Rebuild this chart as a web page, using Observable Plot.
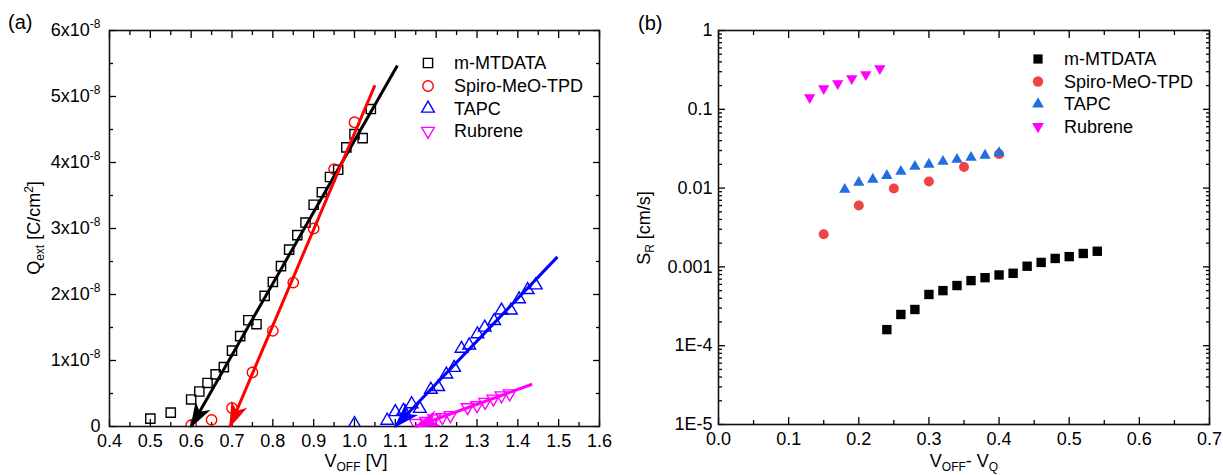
<!DOCTYPE html>
<html><head><meta charset="utf-8">
<script src="https://cdn.jsdelivr.net/npm/d3@7"></script>
<script src="https://cdn.jsdelivr.net/npm/@observablehq/plot@0.6"></script>
<style>
body{margin:0;background:#fff;}
#wrap{position:relative;width:1223px;height:475px;overflow:hidden;}
#pa,#pb{position:absolute;top:0;}
#pa{left:0px}
#pb{left:612px}
</style></head><body>
<div id="wrap"><div id="pa"></div><div id="pb"></div></div>
<script>
// ---------------- Panel (a) data ----------------
const mtdataV = [0.50,0.55,0.60,0.62,0.64,0.66,0.68,0.70,0.72,0.74,0.76,0.78,0.80,0.82,0.84,0.86,0.88,0.90,0.92,0.94,0.96,0.98,1.00,1.02,1.04];
const mtdataQ = [0.12,0.21,0.41,0.53,0.66,0.79,0.90,1.15,1.37,1.61,1.55,1.98,2.19,2.43,2.68,2.90,3.09,3.36,3.55,3.78,3.89,4.23,4.43,4.37,4.81]; // x1e-8 C/cm2
const spiroV = [0.60,0.65,0.70,0.75,0.80,0.85,0.90,0.95,1.00];
const spiroQ = [0.02,0.10,0.28,0.82,1.45,2.18,3.00,3.90,4.61];
const tapcV = [1.00,1.08,1.10,1.12,1.14,1.16,1.187,1.205,1.225,1.244,1.262,1.281,1.301,1.319,1.342,1.360,1.383,1.403,1.424,1.444];
const tapcQ = [0.04,0.09,0.22,0.24,0.34,0.27,0.56,0.60,0.79,0.89,1.18,1.23,1.40,1.50,1.60,1.76,1.76,1.93,2.07,2.14];
const rubV = [1.15,1.175,1.195,1.215,1.235,1.277,1.30,1.32,1.34,1.36,1.38];
const rubQ = [0.05,0.08,0.12,0.14,0.17,0.29,0.32,0.37,0.42,0.47,0.50];
// linear fits with arrows: from upper end (1) to arrow tip on axis (2)
const fitNames = ["m-MTDATA","Spiro-MeO-TPD","TAPC","Rubrene"];
const fitV1 = [1.105,1.05,1.497,1.435];
const fitQ1 = [5.47,5.17,2.57,0.64];
const fitV2 = [0.60,0.695,1.10,1.15];
const fitQ2 = [0,0,0,0];
const aXTicks = [0.4,0.5,0.6,0.7,0.8,0.9,1.0,1.1,1.2,1.3,1.4,1.5,1.6];
const aXMinor = [0.45,0.55,0.65,0.75,0.85,0.95,1.05,1.15,1.25,1.35,1.45,1.55];
const aYTicks = [0,1e-8,2e-8,3e-8,4e-8,5e-8,6e-8];
const aYMinor = [0.5e-8,1.5e-8,2.5e-8,3.5e-8,4.5e-8,5.5e-8];

// ---------------- Panel (b) data ----------------
const bMtdataX = [0.24,0.26,0.28,0.30,0.32,0.34,0.36,0.38,0.40,0.42,0.44,0.46,0.48,0.50,0.52,0.54];
const bMtdataS = [1.6e-4,2.49e-4,2.88e-4,4.47e-4,5.0e-4,5.8e-4,6.7e-4,7.3e-4,7.9e-4,8.3e-4,1.02e-3,1.14e-3,1.28e-3,1.35e-3,1.48e-3,1.58e-3];
const bSpiroX = [0.15,0.20,0.25,0.30,0.35,0.40];
const bSpiroS = [0.0026,0.0060,0.0099,0.0121,0.0185,0.027];
const bTapcX = [0.18,0.20,0.22,0.24,0.26,0.28,0.30,0.32,0.34,0.36,0.38,0.40];
const bTapcS = [0.0096,0.0118,0.0129,0.0144,0.0162,0.0188,0.020,0.0218,0.023,0.0245,0.026,0.028];
const bRubX = [0.13,0.15,0.17,0.19,0.21,0.23];
const bRubS = [0.141,0.184,0.212,0.246,0.277,0.33];
const bXTicks = [0,0.1,0.2,0.3,0.4,0.5,0.6,0.7];
const bXMinor = [0.05,0.15,0.25,0.35,0.45,0.55,0.65];
const bYTicks = [1e-5,1e-4,1e-3,1e-2,1e-1,1];
const bYLabels = ["1E-5","1E-4","0.001","0.01","0.1","1"];
const bYMinor = [];
for (const dec of [1e-5,1e-4,1e-3,1e-2,1e-1]) for (const m of [2,3,4,5,6,7,8,9]) bYMinor.push(dec*m);

// ---------------- helpers ----------------
const FONT = "'Liberation Sans', Arial, Helvetica, sans-serif";
const downTri = {draw(ctx, size){
  const y = -Math.sqrt(size / (3 * Math.sqrt(3)));
  ctx.moveTo(0, -y * 2);
  ctx.lineTo(-Math.sqrt(3) * y, y);
  ctx.lineTo(Math.sqrt(3) * y, y);
  ctx.closePath();
}};
const blank = () => "";
function frameAxes(xMaj, xMin, yMaj, yMin, xFmt, yFmt, yPad) {
  const sw = 1.3;
  return [
    Plot.axisX(xMaj, {anchor:"bottom", tickSize:-7, tickPadding:15, tickFormat:xFmt, label:null, strokeWidth:sw, fontSize:18}),
    Plot.axisX(xMin, {anchor:"bottom", tickSize:-4, tickFormat:blank, label:null, strokeWidth:sw}),
    Plot.axisX(xMaj, {anchor:"top", tickSize:-7, tickFormat:blank, label:null, strokeWidth:sw}),
    Plot.axisX(xMin, {anchor:"top", tickSize:-4, tickFormat:blank, label:null, strokeWidth:sw}),
    Plot.axisY(yMaj, {anchor:"left", tickSize:-7, tickPadding:yPad, tickFormat:yFmt, label:null, strokeWidth:sw, fontSize:18}),
    Plot.axisY(yMin, {anchor:"left", tickSize:-4, tickFormat:blank, label:null, strokeWidth:sw}),
    Plot.axisY(yMaj, {anchor:"right", tickSize:-7, tickFormat:blank, label:null, strokeWidth:sw}),
    Plot.axisY(yMin, {anchor:"right", tickSize:-4, tickFormat:blank, label:null, strokeWidth:sw}),
    Plot.frame({stroke:"#111", strokeWidth:1.6})
  ];
}
function richText(sel, parts) {
  // parts: [text, shift] shift: 0 normal, 1 sub, -1 sup
  let cur = 0;
  for (const [t, s] of parts) {
    const target = s === 1 ? 4 : s === -1 ? -7 : 0;
    const ts = sel.append("tspan").attr("dy", target - cur).text(t);
    if (s !== 0) ts.attr("font-size", 12);
    cur = target;
  }
  return sel;
}
function legend(svg, items, sx, tx, ys, filled) {
  const g = d3.select(svg).append("g").attr("font-family", FONT).attr("font-size", 18).attr("text-anchor", "start");
  items.forEach((it, i) => {
    const p = g.append("path").attr("transform", `translate(${sx},${ys[i]})`)
      .attr("d", d3.symbol(it.sym, it.size)());
    if (filled) p.attr("fill", it.color);
    else p.attr("fill", "none").attr("stroke", it.color).attr("stroke-width", 1.4);
    g.append("text").attr("x", tx).attr("y", ys[i]).attr("dy", "0.35em").attr("text-anchor", "start").attr("fill", "black").text(it.name);
  });
}

// ---------------- Panel (a) ----------------
const rows = (vs, qs) => vs.map((v, i) => ({v, q: qs[i] * 1e-8}));
const fits = fitNames.map((n, i) => ({n, x1: fitV1[i], y1: fitQ1[i]*1e-8, x2: fitV2[i], y2: fitQ2[i]*1e-8}));
const fitColors = ["#000000", "#ff0000", "#0000ff", "#ff00ff"];
const chartA = Plot.plot({
  width: 612, height: 475,
  marginLeft: 109, marginRight: 13, marginTop: 30, marginBottom: 49,
  style: {fontFamily: FONT, fontSize: "18px", color: "black", background: "white", overflow: "visible"},
  x: {domain: [0.4, 1.6]},
  y: {domain: [0, 6e-8]},
  marks: [
    ...frameAxes(aXTicks, aXMinor, aYTicks, aYMinor, d => d.toFixed(1), d => d === 0 ? "0" : `${Math.round(d / 1e-8)}x10`, 16),
    Plot.dot(rows(mtdataV, mtdataQ), {x: "v", y: "q", symbol: "square", r: 5.2, stroke: "black", strokeWidth: 1.4, fill: "none", clip: true}),
    Plot.dot(rows(spiroV, spiroQ), {x: "v", y: "q", symbol: "circle", r: 5.2, stroke: "#ff0000", strokeWidth: 1.4, fill: "none", clip: true}),
    Plot.dot(rows(tapcV, tapcQ), {x: "v", y: "q", symbol: "triangle", r: 4.7, stroke: "#0000ff", strokeWidth: 1.4, fill: "none", clip: true}),
    Plot.dot(rows(rubV, rubQ), {x: "v", y: "q", symbol: downTri, r: 4.7, stroke: "#ff00ff", strokeWidth: 1.4, fill: "none", clip: true}),
    ...fits.map((f, i) => Plot.link([f], {x1: "x1", y1: "y1", x2: "x2", y2: "y2", stroke: fitColors[i], strokeWidth: 3}))
  ]
});
document.getElementById("pa").appendChild(chartA);
{
  const s = d3.select(chartA);
  // superscripts on y tick labels
  s.selectAll('g[aria-label="y-axis tick label"] text').each(function() {
    if (this.textContent.endsWith("x10")) d3.select(this).append("tspan").attr("dy", -8).attr("font-size", 12).text("-8");
  });
  // filled arrow heads
  const defs = s.append("defs");
  fitColors.forEach((c, i) => {
    const m = defs.append("marker").attr("id", `ahA${i}`).attr("viewBox", "-28 -11 31 22")
      .attr("refX", 0).attr("refY", 0).attr("markerWidth", 31).attr("markerHeight", 22)
      .attr("markerUnits", "userSpaceOnUse").attr("orient", "auto");
    m.append("path").attr("d", "M2,0L-24,-8.5L-17,0L-24,8.5Z").attr("fill", c);
  });
  s.selectAll('g[aria-label="link"]').each(function(d, i) {
    d3.select(this).selectAll("path").attr("marker-end", `url(#ahA${i})`);
  });
  // labels
  s.append("text").attr("x", 8).attr("y", 29).attr("text-anchor", "start").attr("font-size", 20).attr("font-family", FONT).attr("fill", "black").text("(a)");
  richText(s.append("text").attr("transform", "translate(40,228) rotate(-90)").attr("text-anchor", "middle")
    .attr("font-size", 18).attr("font-family", FONT).attr("fill", "black"),
    [["Q", 0], ["ext", 1], [" [C/cm", 0], ["2", -1], ["]", 0]]);
  richText(s.append("text").attr("x", 356).attr("y", 467).attr("text-anchor", "middle")
    .attr("font-size", 18).attr("font-family", FONT).attr("fill", "black"),
    [["V", 0], ["OFF", 1], [" [V]", 0]]);
  legend(chartA, [
    {name: "m-MTDATA", sym: d3.symbolSquare, size: 85, color: "black"},
    {name: "Spiro-MeO-TPD", sym: d3.symbolCircle, size: 85, color: "#ff0000"},
    {name: "TAPC", sym: d3.symbolTriangle, size: 70, color: "#0000ff"},
    {name: "Rubrene", sym: downTri, size: 70, color: "#ff00ff"}
  ], 428, 454, [63, 86, 108.5, 131], false);
}

// ---------------- Panel (b) ----------------
const rowsB = (xs, ys) => xs.map((x, i) => ({x, s: ys[i]}));
const chartB = Plot.plot({
  width: 611, height: 475,
  marginLeft: 106, marginRight: 14, marginTop: 30, marginBottom: 51,
  style: {fontFamily: FONT, fontSize: "18px", color: "black", background: "white", overflow: "visible"},
  x: {domain: [0, 0.7]},
  y: {type: "log", domain: [1e-5, 1]},
  marks: [
    ...frameAxes(bXTicks, bXMinor, bYTicks, bYMinor, d => d.toFixed(1), d => bYLabels[bYTicks.findIndex(t => Math.abs(t - d) / t < 1e-6)], 13),
    Plot.dot(rowsB(bMtdataX, bMtdataS), {x: "x", y: "s", symbol: "square", r: 5.3, fill: "black"}),
    Plot.dot(rowsB(bSpiroX, bSpiroS), {x: "x", y: "s", symbol: "circle", r: 5, fill: "#f04444"}),
    Plot.dot(rowsB(bTapcX, bTapcS), {x: "x", y: "s", symbol: "triangle", r: 4.2, fill: "#1f6fdf"}),
    Plot.dot(rowsB(bRubX, bRubS), {x: "x", y: "s", symbol: downTri, r: 4.2, fill: "#ff00ff"})
  ]
});
document.getElementById("pb").appendChild(chartB);
{
  const s = d3.select(chartB);
  s.append("text").attr("x", 26).attr("y", 30).attr("text-anchor", "start").attr("font-size", 20).attr("font-family", FONT).attr("fill", "black").text("(b)");
  richText(s.append("text").attr("transform", "translate(38,228) rotate(-90)").attr("text-anchor", "middle")
    .attr("font-size", 18).attr("font-family", FONT).attr("fill", "black"),
    [["S", 0], ["R", 1], [" [cm/s]", 0]]);
  richText(s.append("text").attr("x", 352).attr("y", 467).attr("text-anchor", "middle")
    .attr("font-size", 18).attr("font-family", FONT).attr("fill", "black"),
    [["V", 0], ["OFF", 1], ["- V", 0], ["Q", 1]]);
  legend(chartB, [
    {name: "m-MTDATA", sym: d3.symbolSquare, size: 85, color: "black"},
    {name: "Spiro-MeO-TPD", sym: d3.symbolCircle, size: 85, color: "#f04444"},
    {name: "TAPC", sym: d3.symbolTriangle, size: 60, color: "#1f6fdf"},
    {name: "Rubrene", sym: downTri, size: 60, color: "#ff00ff"}
  ], 426, 452, [59, 81.5, 104, 126.5], true);
}
</script>
</body></html>
